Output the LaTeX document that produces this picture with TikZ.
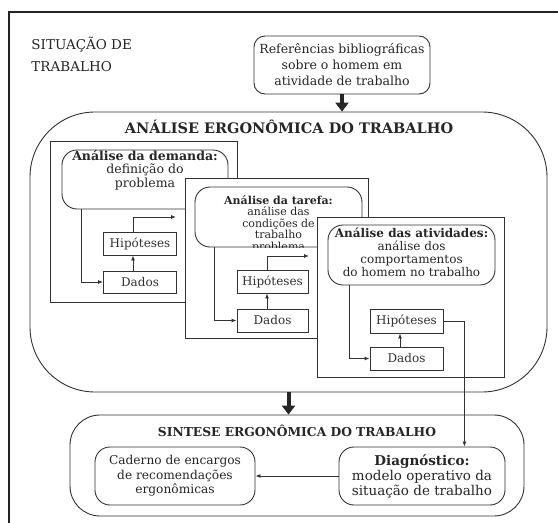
\documentclass[tikz,border=0pt]{standalone}
\usepackage{fontspec}
\setmainfont{DejaVu Serif}
\usetikzlibrary{arrows.meta,positioning,calc}
\definecolor{ink}{RGB}{50,50,50}
\definecolor{frameink}{RGB}{35,35,35}
\newcommand{\fsz}[2]{\fontsize{#1}{#2}\selectfont}

\begin{document}
\begin{tikzpicture}[x=1pt, y=-1pt, line width=0.9pt, color=ink,
  panel/.style={draw, rectangle, fill=white, inner sep=0pt},
  rbox/.style={draw, rectangle, rounded corners=15pt, fill=white, inner sep=0pt},
  hbox/.style={draw, rectangle, fill=white, inner sep=0pt, minimum width=73pt, minimum height=23pt, font=\fsz{12}{14}},
  tip/.style={-{Latex[length=5pt,width=4pt]}},
  bigarrow/.style={-{Triangle[length=9pt,width=13pt]}, line width=4pt, draw=black!85},
  ptext/.style={align=center, inner sep=0pt, text=black!85}]
  \useasboundingbox (0,0) rectangle (558,523);
  \fill[white] (0,0) rectangle (558,523);
  % frame of the page
  \draw[frameink, line width=2pt] (9,523) -- (9,12) -- (558,12);
  \node[ptext, anchor=north west, align=left, font=\fsz{13.5}{22}] (sit) at (31,37) {SITUAÇÃO DE\\TRABALHO};

  \node[rbox, rounded corners=11pt, minimum width=176pt, minimum height=58pt, align=center,
        font=\fsz{12.5}{16}, text=black!85] (refs) at (342,65) {Referências bibliográficas\\sobre o homem em\\atividade de trabalho};

  % analise
  \node[rbox, rounded corners=65pt, minimum width=517pt, minimum height=280pt] (ana) at (288.5,252) {};
  \draw[bigarrow] (refs.south) -- (refs.south |- ana.north);
  \node[ptext, font=\bfseries\fsz{14.5}{16}] (anatit) at (289,127) {ANÁLISE ERGONÔMICA DO TRABALHO};

  % demanda
  \node[panel, minimum width=187pt, minimum height=161pt] (pan1) at (143.5,221.5) {};
  \node[rbox, minimum width=166pt, minimum height=59pt] (dem) at (145,179.5) {};
  \node[ptext, font=\fsz{12.5}{13.5}] (demtxt) at (145,170) {{\bfseries Análise da demanda:}\\definição do\\problema};
  \node[hbox] (hip1) at (140,243.5) {Hipóteses};
  \node[hbox, minimum height=22pt] (dad1) at (140,282) {Dados};
  \coordinate (out1) at (176,217);
  \draw[tip] ([xshift=20pt]dem.south west) |- (dad1.west);
  \draw[tip] ([xshift=-7pt]dad1.north) -- ([xshift=-7pt]hip1.south);
  \draw[tip] ([xshift=-7pt]hip1.north) |- (out1);

  % tarefa
  \node[panel, minimum width=183pt, minimum height=160pt] (pan2) at (276.5,258) {};
  \node[rbox, minimum width=167pt, minimum height=60pt] (tar) at (278.5,217) {};
  \begin{scope}
    \clip[rounded corners=15pt] (tar.south west) rectangle (tar.north east);
    \node[ptext, anchor=north, font=\fsz{11}{11.5}] (tartxt) at (278.5,195) {{\bfseries Análise da tarefa:}\\análise das\\condições de\\trabalho\\problema};
  \end{scope}
  \node[hbox, minimum width=71pt] (hip2) at (272.5,281.5) {Hipóteses};
  \node[hbox, minimum width=71pt] (dad2) at (272.5,320.5) {Dados};
  \coordinate (out2) at (309,256);
  \draw[tip] ([xshift=20pt]tar.south west) |- (dad2.west);
  \draw[tip] ([xshift=-5.5pt]dad2.north) -- ([xshift=-5.5pt]hip2.south);
  \draw[tip] ([xshift=-5.5pt]hip2.north) |- (out2);

  % atividades
  \node[panel, minimum width=187pt, minimum height=160pt] (pan3) at (410.5,297) {};
  \node[rbox, minimum width=167pt, minimum height=60pt] (ati) at (411.5,255) {};
  \node[ptext, anchor=north, font=\fsz{12}{13}] (atitxt) at (411.5,227) {{\bfseries Análise das atividades:}\\análise dos\\comportamentos\\do homem no trabalho};
  \node[hbox, minimum height=24pt] (hip3) at (406.5,321) {Hipóteses};
  \node[hbox] (dad3) at (406.5,358.5) {Dados};
  \draw[tip] ([xshift=22pt]ati.south west) |- (dad3.west);
  \draw[tip] ([xshift=-6.5pt]dad3.north) -- ([xshift=-6.5pt]hip3.south);

  % sintese
  \node[rbox, rounded corners=30pt, minimum width=454pt, minimum height=101pt] (sin) at (297,465.5) {};
  \draw[bigarrow] (ana.south) -- (ana.south |- sin.north);
  \node[ptext, font=\bfseries\fsz{12.3}{14}] (sintit) at (297,431) {SINTESE ERGONÔMICA DO TRABALHO};
  \node[rbox, minimum width=160pt, minimum height=58pt, align=center, font=\fsz{12.2}{14.5}, text=black!85] (cad) at (175,476) {Caderno de encargos\\de recomendações\\ergonômicas};
  \node[rbox, minimum width=166pt, minimum height=58pt, align=center, font=\fsz{13.5}{15}, text=black!85] (diag) at (422,476) {{\bfseries Diagnóstico:}\\modelo operativo da\\situação de trabalho};
  \draw[tip] (hip3.east) -| ([xshift=-41pt]diag.north east);
  \draw[tip] (diag.west) -- (cad.east);
\end{tikzpicture}
\end{document}
